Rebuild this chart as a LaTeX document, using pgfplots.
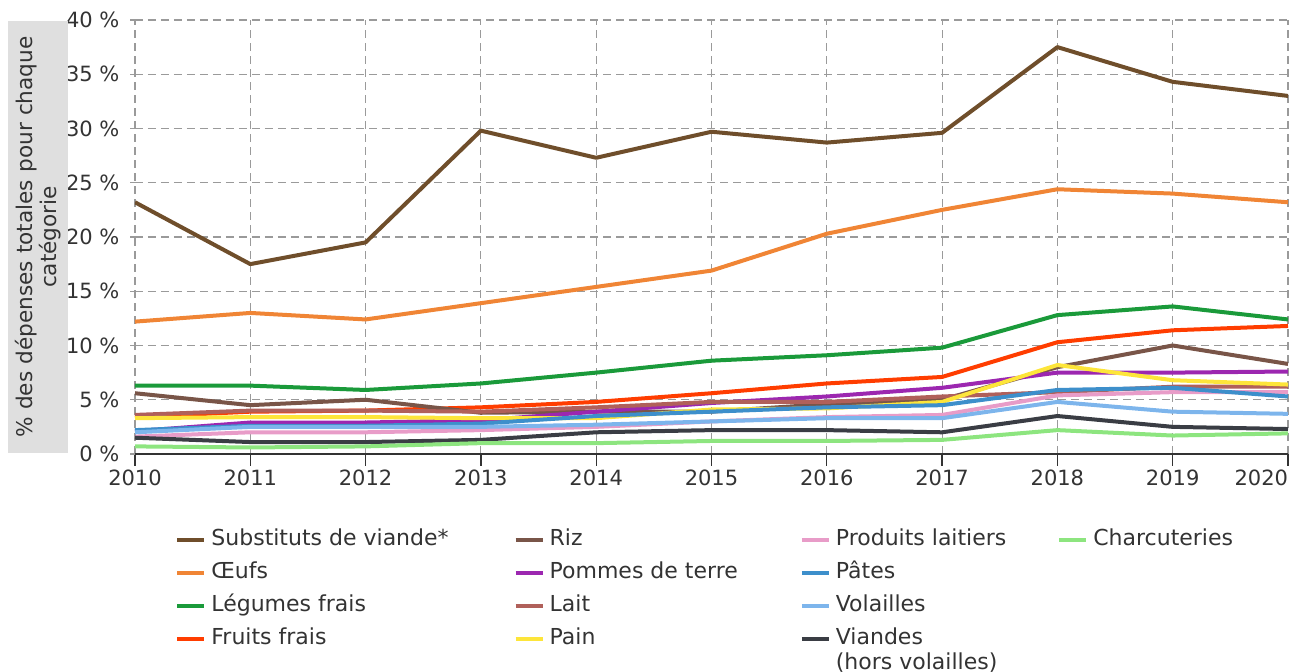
\documentclass[border=0pt]{standalone}
\usepackage{pgfplots}
\pgfplotsset{compat=1.18}
\usepackage{fontspec}
\setmainfont{DejaVu Sans}
\definecolor{cSub}{HTML}{6F4E2B}
\definecolor{cOeu}{HTML}{F08535}
\definecolor{cLeg}{HTML}{1A9A3A}
\definecolor{cFru}{HTML}{FF3D00}
\definecolor{cRiz}{HTML}{795548}
\definecolor{cPom}{HTML}{9C27B0}
\definecolor{cLai}{HTML}{B0605A}
\definecolor{cPai}{HTML}{FDE53A}
\definecolor{cPro}{HTML}{E89CC8}
\definecolor{cPat}{HTML}{3D8FCB}
\definecolor{cVol}{HTML}{7DB5EC}
\definecolor{cVia}{HTML}{3A3D44}
\definecolor{cCha}{HTML}{8DE57F}
\definecolor{txt}{HTML}{333333}
\definecolor{gridc}{HTML}{9A9A9A}
\begin{document}
\begin{tikzpicture}
\path[use as bounding box] (-67.5pt,-109pt) rectangle (578pt,227pt);
\begin{axis}[
  at={(0pt,0pt)}, anchor=south west,
  scale only axis, width=576.5pt, height=217pt,
  xmin=2010, xmax=2020, ymin=0, ymax=40,
  xtick={2010,2011,...,2020},
  xticklabels={2010,2011,2012,2013,2014,2015,2016,2017,2018,2019,{\makebox[0pt][r]{2020}}},
  ytick={0,5,...,40},
  yticklabel={\pgfmathprintnumber{\tick}~\%},
  /pgf/number format/assume math mode=true,
  /pgf/number format/1000 sep={},
  tick label style={font=\fontsize{10.5pt}{12pt}\selectfont, text=txt},
  axis x line*=bottom, axis y line*=left,
  x axis line style={-, draw=txt, line width=1.2pt},
  y axis line style={draw=none},
  tick align=outside,
  xtick style={draw=txt, line width=0.7pt, /pgfplots/major tick length=6pt},
  ytick style={draw=gridc, line width=0.6pt, /pgfplots/major tick length=2.5pt},
  grid=major,
  major grid style={draw=gridc, line width=0.6pt, dash pattern=on 4pt off 2.5pt},
  ylabel={\% des dépenses totales pour chaque\\catégorie},
  ylabel style={at={(axis description cs:-0.0841,0.5)}, anchor=center,
    fill=gray!25, text width=214pt, align=center, minimum height=30pt,
    inner sep=1pt, text=txt, font=\fontsize{10.8pt}{12pt}\selectfont},
  every axis plot/.append style={line width=2pt, mark=none, line join=round},
  legend image code/.code={\draw[#1, line width=2pt] (0pt,0pt) -- (13.5pt,0pt);},
  legend cell align=left,
  legend columns=4,
  legend style={draw=none, fill=none, inner sep=0pt,
    at={(axis description cs:0.0347,-0.1696)}, anchor=north west,
    font=\fontsize{11pt}{12.5pt}\selectfont, text=txt,
    row sep=4.5pt,
    nodes={inner sep=1pt, text height=7.8pt, text depth=2.2pt},
    /tikz/column 1/.style={column sep=1.5pt},
    /tikz/column 2/.style={column sep=31.5pt},
    /tikz/column 3/.style={column sep=1.5pt},
    /tikz/column 4/.style={column sep=30pt},
    /tikz/column 5/.style={column sep=1.5pt},
    /tikz/column 6/.style={column sep=24.5pt},
    /tikz/column 7/.style={column sep=1.5pt}},
]
\addplot[cSub, forget plot] coordinates {(2010,23.2)(2011,17.5)(2012,19.5)(2013,29.8)(2014,27.3)(2015,29.7)(2016,28.7)(2017,29.6)(2018,37.5)(2019,34.3)(2020,33.0)};
\addplot[cOeu, forget plot] coordinates {(2010,12.2)(2011,13.0)(2012,12.4)(2013,13.9)(2014,15.4)(2015,16.9)(2016,20.3)(2017,22.5)(2018,24.4)(2019,24.0)(2020,23.2)};
\addplot[cLeg, forget plot] coordinates {(2010,6.3)(2011,6.3)(2012,5.9)(2013,6.5)(2014,7.5)(2015,8.6)(2016,9.1)(2017,9.8)(2018,12.8)(2019,13.6)(2020,12.4)};
\addplot[cFru, forget plot] coordinates {(2010,3.4)(2011,3.9)(2012,4.0)(2013,4.3)(2014,4.8)(2015,5.6)(2016,6.5)(2017,7.1)(2018,10.3)(2019,11.4)(2020,11.8)};
\addplot[cRiz, forget plot] coordinates {(2010,5.6)(2011,4.5)(2012,5.0)(2013,3.8)(2014,3.9)(2015,3.9)(2016,4.6)(2017,5.0)(2018,8.0)(2019,10.0)(2020,8.3)};
\addplot[cPom, forget plot] coordinates {(2010,2.1)(2011,2.9)(2012,2.9)(2013,3.1)(2014,3.9)(2015,4.7)(2016,5.3)(2017,6.1)(2018,7.5)(2019,7.5)(2020,7.6)};
\addplot[cLai, forget plot] coordinates {(2010,3.6)(2011,4.0)(2012,4.0)(2013,3.9)(2014,4.3)(2015,4.8)(2016,4.8)(2017,5.3)(2018,5.7)(2019,6.2)(2020,6.2)};
\addplot[cPai, forget plot] coordinates {(2010,3.3)(2011,3.4)(2012,3.4)(2013,3.3)(2014,3.3)(2015,4.1)(2016,4.2)(2017,4.8)(2018,8.2)(2019,6.8)(2020,6.4)};
\addplot[cPro, forget plot] coordinates {(2010,1.6)(2011,2.0)(2012,2.0)(2013,2.2)(2014,2.5)(2015,3.0)(2016,3.4)(2017,3.6)(2018,5.4)(2019,5.7)(2020,5.7)};
\addplot[cPat, forget plot] coordinates {(2010,2.2)(2011,2.6)(2012,2.6)(2013,2.8)(2014,3.5)(2015,3.9)(2016,4.3)(2017,4.5)(2018,5.9)(2019,6.1)(2020,5.3)};
\addplot[cVol, forget plot] coordinates {(2010,2.0)(2011,2.5)(2012,2.5)(2013,2.5)(2014,2.7)(2015,3.0)(2016,3.3)(2017,3.3)(2018,4.8)(2019,3.9)(2020,3.7)};
\addplot[cVia, forget plot] coordinates {(2010,1.5)(2011,1.1)(2012,1.1)(2013,1.3)(2014,2.0)(2015,2.2)(2016,2.2)(2017,2.0)(2018,3.5)(2019,2.5)(2020,2.3)};
\addplot[cCha, forget plot] coordinates {(2010,0.7)(2011,0.6)(2012,0.7)(2013,1.0)(2014,1.0)(2015,1.2)(2016,1.2)(2017,1.3)(2018,2.2)(2019,1.7)(2020,1.9)};
% legend, row by row
\addlegendimage{cSub}\addlegendentry{Substituts de viande*}
\addlegendimage{cRiz}\addlegendentry{Riz}
\addlegendimage{cPro}\addlegendentry{Produits laitiers}
\addlegendimage{cCha}\addlegendentry{Charcuteries}
\addlegendimage{cOeu}\addlegendentry{Œufs}
\addlegendimage{cPom}\addlegendentry{Pommes de terre}
\addlegendimage{cPat}\addlegendentry{Pâtes}
\addlegendimage{empty legend}\addlegendentry{}
\addlegendimage{cLeg}\addlegendentry{Légumes frais}
\addlegendimage{cLai}\addlegendentry{Lait}
\addlegendimage{cVol}\addlegendentry{Volailles}
\addlegendimage{empty legend}\addlegendentry{}
\addlegendimage{cFru}\addlegendentry{Fruits frais}
\addlegendimage{cPai}\addlegendentry{Pain}
\addlegendimage{cVia}\addlegendentry{\begin{tabular}[t]{@{}l@{}}Viandes\\(hors volailles)\end{tabular}}
\end{axis}
\end{tikzpicture}
\end{document}
